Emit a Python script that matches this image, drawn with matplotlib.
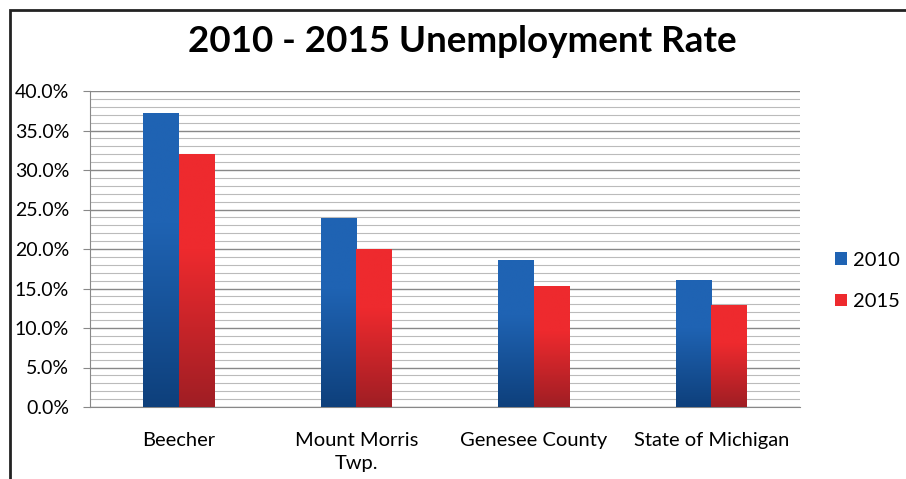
import numpy as np
import matplotlib.pyplot as plt
from matplotlib.patches import Rectangle
from matplotlib.ticker import MultipleLocator, FuncFormatter

categories = ['Beecher', 'Mount Morris\nTwp.', 'Genesee County', 'State of Michigan']
rate_2010 = [37.2, 23.9, 18.6, 16.0]
rate_2015 = [31.9, 19.9, 15.2, 12.9]

plt.rcParams['font.family'] = ['Lato', 'DejaVu Sans']

fig = plt.figure(figsize=(9.06, 4.79), dpi=100)
fig.patches.append(Rectangle((10 / 906, -0.1), 1.2, 1 - 10 / 479 + 0.1,
                             transform=fig.transFigure, fill=False,
                             edgecolor='#222222', linewidth=2))

ax = fig.add_axes([90 / 906, 72 / 479, 710 / 906, 316 / 479])

x = np.arange(len(categories))
w = 0.2


def grad_bar(xc, h, c_light, c_dark):
    # vertical shading, darker toward the bottom
    t = np.linspace(0, 1, 60).reshape(-1, 1)
    t = np.clip(t * 1.6, 0, 1)
    rgb = c_dark[None, None, :] * (1 - t[..., None]) + c_light[None, None, :] * t[..., None]
    ax.imshow(rgb, extent=(xc - w / 2, xc + w / 2, 0, h), aspect='auto',
              origin='lower', zorder=3, interpolation='bilinear')


blue_l = np.array([0x1f, 0x63, 0xb3]) / 255
blue_d = np.array([0x0e, 0x40, 0x7c]) / 255
red_l = np.array([0xee, 0x2a, 0x2e]) / 255
red_d = np.array([0xa0, 0x1e, 0x24]) / 255

for i in range(len(categories)):
    grad_bar(x[i] - w / 2, rate_2010[i], blue_l, blue_d)
    grad_bar(x[i] + w / 2, rate_2015[i], red_l, red_d)

b1 = ax.bar(x - w / 2, rate_2010, w, color='#1f63b3', zorder=2, label='2010')
b2 = ax.bar(x + w / 2, rate_2015, w, color='#ee2a2e', zorder=2, label='2015')

ax.set_xlim(-0.5, len(categories) - 0.5)
ax.set_ylim(0, 40)
ax.yaxis.set_major_locator(MultipleLocator(5))
ax.yaxis.set_minor_locator(MultipleLocator(1))
ax.yaxis.set_major_formatter(FuncFormatter(lambda v, p: '%.1f%%' % v))
ax.grid(axis='y', which='major', color='#888888', linewidth=1, zorder=0)
ax.grid(axis='y', which='minor', color='#bbbbbb', linewidth=0.8, zorder=0)
ax.set_axisbelow(True)

ax.set_xticks(x)
ax.set_xticklabels(categories, fontsize=14.5, va='top', linespacing=1.4)
ax.tick_params(axis='x', length=0, pad=18)
ax.tick_params(axis='y', which='major', length=5, color='#888888', labelsize=14, pad=10)
ax.tick_params(axis='y', which='minor', length=0)
for s in ['top', 'right']:
    ax.spines[s].set_visible(False)
ax.spines['left'].set_color('#888888')
ax.spines['bottom'].set_color('#888888')

fig.text(462 / 906, 1 - 42 / 479, '2010 - 2015 Unemployment Rate', ha='center',
         va='center', fontsize=26.5, fontweight='bold')

leg = fig.legend(handles=[b1, b2], loc='center left', bbox_to_anchor=(835 / 906, 1 - 281 / 479),
                 frameon=False, fontsize=14.5, handlelength=0.6, handleheight=0.6,
                 handletextpad=0.3, labelspacing=1.2, borderpad=0, borderaxespad=0)

plt.savefig('out.png', dpi=100)
